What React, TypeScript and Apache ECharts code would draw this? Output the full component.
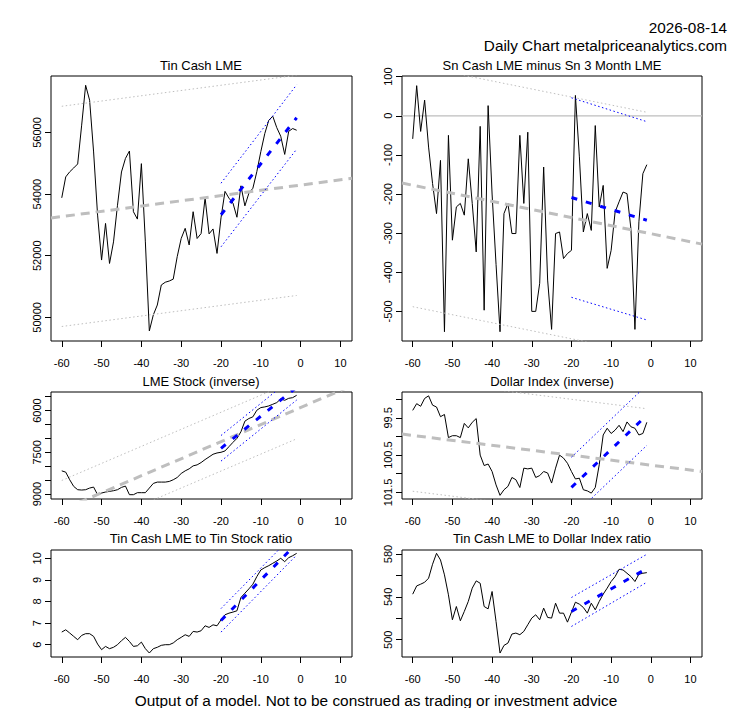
import React, { useEffect, useRef } from "react";
import * as echarts from "echarts";

const days = [-60,-59,-58,-57,-56,-55,-54,-53,-52,-51,-50,-49,-48,-47,-46,-45,-44,-43,-42,-41,-40,-39,-38,-37,-36,-35,-34,-33,-32,-31,-30,-29,-28,-27,-26,-25,-24,-23,-22,-21,-20,-19,-18,-17,-16,-15,-14,-13,-12,-11,-10,-9,-8,-7,-6,-5,-4,-3,-2,-1];

const tinCash = [53880,54560,54725,54850,54980,56240,57535,57050,55370,53320,51860,53050,51750,52450,53640,54720,55160,55400,53430,53190,54990,52450,49560,50080,50400,51050,51140,51180,51240,51970,52560,52890,52350,53430,52560,52720,53880,52710,52870,52075,53230,54090,53870,53710,53250,54270,53620,54030,54190,54730,55380,55970,56400,56530,56160,55880,55290,56040,56130,56075];
const cashMinus3m = [-59,77,-40,40,-80,-173,-250,-114,-552,-50,-318,-233,-224,-254,-110,-224,-348,-27,-497,26,-200,-380,-552,-250,-224,-301,-301,-50,-224,-42,-500,-500,-428,-131,-420,-546,-301,-297,-365,-352,-344,52,-105,-297,-250,-293,-25,-233,-178,-390,-344,-246,-220,-195,-199,-290,-546,-271,-148,-125];
const lmeStock = [8167,8214,8488,8726,8845,8857,8845,8786,8750,9024,8964,8929,8905,8881,8845,8762,8714,9024,9024,8952,8952,8952,8786,8619,8571,8571,8571,8548,8488,8405,8262,8167,8095,7988,7952,7869,7762,7667,7571,7524,7500,7452,7298,7143,7000,6762,6381,6286,6226,5988,5893,5869,5833,5774,5714,5583,5631,5560,5536,5452];
const dollarIndex = [99.30,99.12,99.19,98.98,98.91,99.16,99.21,99.47,99.41,100.03,99.98,99.98,100.03,99.65,99.77,99.62,99.52,100.50,100.78,100.74,100.94,101.30,101.58,101.43,101.34,101.10,101.16,101.37,100.85,100.87,100.85,101.10,101.05,100.94,100.98,101.25,100.85,100.50,100.58,100.72,100.94,101.14,101.12,101.43,101.46,101.52,101.37,100.76,99.96,99.78,99.92,99.83,99.70,99.87,99.61,99.74,99.78,99.96,99.92,99.62];
const tinStockRatio = [6.585,6.69,6.54,6.385,6.23,6.43,6.51,6.51,6.385,6.03,5.77,5.92,5.815,5.88,6.0,6.185,6.34,6.15,5.92,5.95,6.12,5.815,5.615,5.815,5.88,5.97,6.0,6.0,6.08,6.23,6.34,6.46,6.385,6.615,6.585,6.645,6.875,6.8,6.92,6.875,7.15,7.385,7.46,7.51,7.57,8.185,8.385,8.585,8.8,9.154,9.46,9.57,9.66,9.77,9.877,10.0,9.846,10.03,10.12,10.23];
const tinDollarRatio = [542.5,550.2,551.8,553.6,557.4,570.4,580.6,574.4,560.5,541.9,518.6,531,517.7,526.4,535.7,548.1,554.9,552.7,531,528.8,545,517,487.6,494.7,496.9,505.3,506.2,504.7,507.8,514,520.2,523.3,518.6,529.5,520.8,520.2,534.1,524.8,524.8,516.4,525.7,535,533.2,530.1,524.8,534.1,527.9,535.7,542.5,548.1,554.3,558.9,565.7,565.1,562,558.9,554.3,561.1,562,562.6];

// x ticks
const xTicks = [-60,-50,-40,-30,-20,-10,0,10];
const X_MIN = -62.7, X_MAX = 12.9;
// long-term trend & band endpoints
const trendX = [X_MIN, X_MAX];
const bandX = [-60, -1];
const fitX = [-20, -1];

// Panel 1 lines
const p1Trend = [53225, 54515];
const p1Upper = [56853, 57860];
const p1Lower = [49703, 50710];
const p1Fit = [53330, 56480];
const p1FitUp = [54355, 57550];
const p1FitLo = [52290, 55460];
// Panel 2
const p2Trend = [-172, -328];
const p2Upper = [130, 9];
const p2Lower = [-488, -609];
const p2Fit = [-209, -267];
const p2FitUp = [46, -15];
const p2FitLo = [-464, -522];
const p2Zero = [0, 0];
// Panel 3
const p3Trend = [9735, 5100];
const p3Upper = [8513, 4896];
const p3Lower = [10613, 7016];
const p3Fit = [7357, 5162];
const p3FitUp = [6897, 4702];
const p3FitLo = [7817, 5622];
// Panel 4
const p4Trend = [99.936, 100.94];
const p4Upper = [98.47, 99.255];
const p4Lower = [101.47, 102.255];
const p4Fit = [101.367, 99.429];
const p4FitUp = [100.557, 98.619];
const p4FitLo = [102.177, 100.239];
// Panel 5
const p5Fit = [7.123, 10.69];
const p5FitUp = [7.673, 11.24];
const p5FitLo = [6.583, 10.15];
// Panel 6
const p6Fit = [526.4, 566.4];
const p6FitUp = [539.4, 579.7];
const p6FitLo = [512.4, 553.6];

// y ticks and shown labels
const y1Ticks = [50000, 52000, 54000, 56000];
const y1Labels = [50000, 52000, 54000, 56000];
const y2Ticks = [-500, -400, -300, -200, -100, 0, 100];
const y2Labels = [-500, -400, -300, -200, -100, 0, 100];
const y3Ticks = [5500, 6000, 6500, 7000, 7500, 8000, 8500, 9000];
const y3Labels = [6000, 7500, 9000];
const y4Ticks = [99, 99.5, 100, 100.5, 101, 101.5];
const y4Labels = [99.5, 100.5, 101.5];
const y5Ticks = [6, 7, 8, 9, 10];
const y5Labels = [6, 7, 8, 9, 10];
const y6Ticks = [500, 520, 540, 560, 580];
const y6Labels = [500, 540, 580];

const titles = [
  "Tin Cash LME",
  "Sn Cash LME minus Sn 3 Month LME",
  "LME Stock (inverse)",
  "Dollar Index (inverse)",
  "Tin Cash LME to Tin Stock ratio",
  "Tin Cash LME to Dollar Index ratio",
];

const FONT = "'Liberation Sans', Arial, Helvetica, sans-serif";
const GRAY = "#bebebe";
const BLUE = "#0000ff";

function pair(xs: number[], ys: number[]) {
  return xs.map((x, i) => [x, ys[i]]);
}

export default function App() {
  const ref = useRef<HTMLDivElement>(null);
  useEffect(() => {
    if (!ref.current) return;
    const chart = echarts.init(ref.current, null, { renderer: "svg" });

    const grids = [
      { left: 51, top: 76, width: 301, height: 265 },
      { left: 402, top: 76, width: 300, height: 265 },
      { left: 51, top: 392, width: 301, height: 107 },
      { left: 402, top: 392, width: 300, height: 107 },
      { left: 51, top: 550, width: 301, height: 107 },
      { left: 402, top: 550, width: 300, height: 107 },
    ].map((g) => ({ ...g, show: true, borderColor: "#000", borderWidth: 1, backgroundColor: "transparent", containLabel: false }));

    const yDefs = [
      { min: 49232, max: 57836, ticks: y1Ticks, labels: y1Labels, inverse: false },
      { min: -575.7, max: 101.7, ticks: y2Ticks, labels: y2Labels, inverse: false },
      { min: 5333, max: 9179, ticks: y3Ticks, labels: y3Labels, inverse: true },
      { min: 98.807, max: 101.678, ticks: y4Ticks, labels: y4Labels, inverse: true },
      { min: 5.43, max: 10.385, ticks: y5Ticks, labels: y5Labels, inverse: false },
      { min: 483.9, max: 583.7, ticks: y6Ticks, labels: y6Labels, inverse: false },
    ];

    const xAxis = grids.map((_, i) => ({
      type: "value",
      gridIndex: i,
      min: X_MIN,
      max: X_MAX,
      splitLine: { show: false },
      axisLine: { show: false, onZero: false },
      axisTick: { show: true, inside: false, length: 6, lineStyle: { color: "#000" }, customValues: xTicks },
      axisLabel: { show: true, customValues: xTicks, color: "#000", fontSize: 11, fontFamily: FONT, margin: 16, formatter: (v: number) => String(v) },
    }));

    const yAxis = yDefs.map((d, i) => ({
      type: "value",
      gridIndex: i,
      min: d.min,
      max: d.max,
      inverse: d.inverse,
      splitLine: { show: false },
      axisLine: { show: false, onZero: false },
      axisTick: { show: true, inside: false, length: 6, lineStyle: { color: "#000" }, customValues: d.ticks },
      axisLabel: {
        show: true,
        customValues: d.ticks,
        rotate: 90,
        color: "#000",
        fontSize: 11,
        fontFamily: FONT,
        margin: 9,
        formatter: (v: number) => (d.labels.some((l) => Math.abs(l - v) < 1e-6) ? String(v) : ""),
      },
    }));

    const line = (i: number, data: number[][], color: string, width: number, type: any, z = 2) => ({
      type: "line",
      xAxisIndex: i,
      yAxisIndex: i,
      data,
      symbol: "none",
      showSymbol: false,
      clip: true,
      silent: true,
      z,
      lineStyle: { color, width, type, cap: "butt" },
    });

    const DASH_G = [9, 6];
    const DASH_B = [6, 9];
    const DOT = [1.5, 2.5];

    const series: any[] = [];
    const dataSets = [tinCash, cashMinus3m, lmeStock, dollarIndex, tinStockRatio, tinDollarRatio];
    const grayTrend = [p1Trend, p2Trend, p3Trend, p4Trend, null, null];
    const grayUp = [p1Upper, p2Upper, p3Upper, p4Upper, null, null];
    const grayLo = [p1Lower, p2Lower, p3Lower, p4Lower, null, null];
    const fits = [p1Fit, p2Fit, p3Fit, p4Fit, p5Fit, p6Fit];
    const fitUps = [p1FitUp, p2FitUp, p3FitUp, p4FitUp, p5FitUp, p6FitUp];
    const fitLos = [p1FitLo, p2FitLo, p3FitLo, p4FitLo, p5FitLo, p6FitLo];

    dataSets.forEach((ds, i) => {
      if (i === 1) series.push(line(i, pair(trendX, p2Zero), GRAY, 1.3, "solid", 1));
      series.push(line(i, pair(days, ds), "#000", 1, "solid", 3));
      const gt = grayTrend[i];
      if (gt) {
        series.push(line(i, pair(trendX, gt), GRAY, 3, DASH_G, 4));
        series.push(line(i, pair(bandX, grayUp[i] as number[]), GRAY, 1, DOT, 4));
        series.push(line(i, pair(bandX, grayLo[i] as number[]), GRAY, 1, DOT, 4));
      }
      series.push(line(i, pair(fitX, fits[i]), BLUE, 3, DASH_B, 5));
      series.push(line(i, pair(fitX, fitUps[i]), BLUE, 1, DOT, 5));
      series.push(line(i, pair(fitX, fitLos[i]), BLUE, 1, DOT, 5));
    });

    const titlePos = [
      [201, 65], [552, 65], [201, 381], [552, 381], [201, 538], [552, 538],
    ];
    const graphic: any[] = titles.map((t, i) => ({
      type: "text",
      x: titlePos[i][0],
      y: titlePos[i][1],
      style: { text: t, fill: "#000", font: `13px ${FONT}`, textAlign: "center", textVerticalAlign: "middle" },
    }));
    graphic.push(
      { type: "text", x: 727, y: 27.5, style: { text: "2026-08-14", fill: "#000", font: `15.3px ${FONT}`, textAlign: "right", textVerticalAlign: "middle" } },
      { type: "text", x: 727, y: 45, style: { text: "Daily Chart metalpriceanalytics.com", fill: "#000", font: `15.3px ${FONT}`, textAlign: "right", textVerticalAlign: "middle" } },
      { type: "text", x: 376, y: 700, style: { text: "Output of a model. Not to be construed as trading or investment advice", fill: "#000", font: `15.4px ${FONT}`, textAlign: "center", textVerticalAlign: "middle" } }
    );

    chart.setOption({
      animation: false,
      backgroundColor: "#fff",
      grid: grids,
      xAxis,
      yAxis,
      series,
      graphic,
    });
    return () => chart.dispose();
  }, []);

  return (
    <div
      ref={ref}
      style={{ position: "absolute", left: 0, top: 0, width: 753, height: 708, background: "#fff" }}
    />
  );
}
